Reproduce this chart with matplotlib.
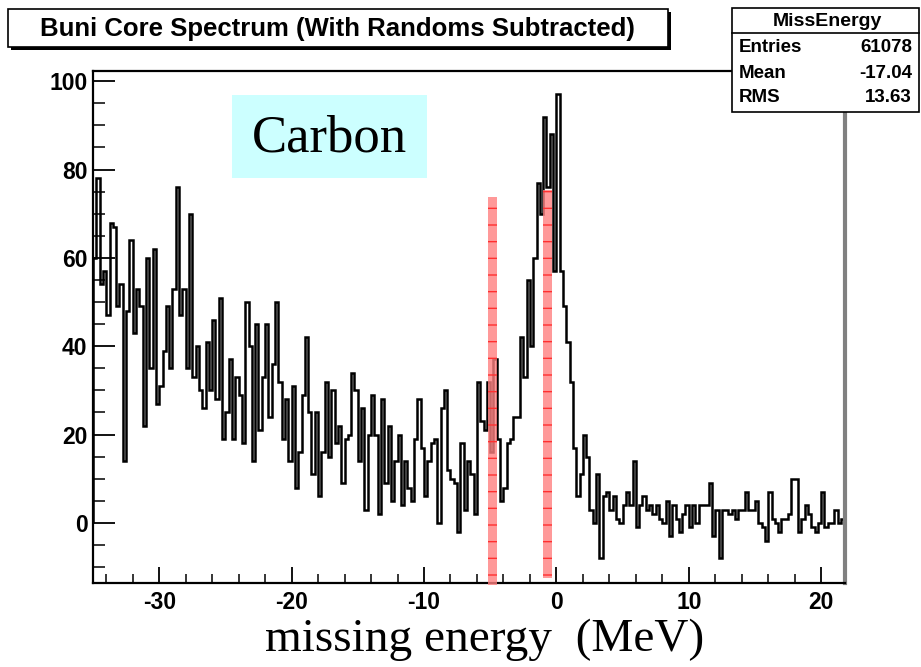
import numpy as np
import matplotlib
matplotlib.use("Agg")
import matplotlib.pyplot as plt
from matplotlib.patches import Rectangle
from matplotlib.ticker import MultipleLocator

plt.rcParams["axes.unicode_minus"] = False

# missing energy histogram, 0.25 MeV bins starting at -35 MeV
bin_start = -35.0
bin_width = 0.25
counts_low = [60, 78, 54, 57, 47, 68, 67, 49, 54, 14,
              48, 64, 43, 53, 49, 22, 60, 35, 62, 27,
              31, 39, 49, 35, 53, 76, 47, 53, 35, 70,
              33, 40, 30, 26, 41, 30, 46, 28, 51, 19,
              25, 37, 19, 33, 29, 18, 50, 40, 14, 45]
counts_mid = [21, 33, 45, 24, 36, 50, 32, 19, 28, 14,
              31, 8, 16, 29, 42, 25, 11, 25, 6, 16,
              32, 15, 30, 18, 22, 9, 19, 20, 34, 30,
              14, 26, 3, 20, 29, 20, 2, 28, 9, 22,
              5, 14, 20, 4, 14, 8]
counts_peak = [5, 19, 28, 17, 6, 14, 18, 19, 0, 26,
               30, 12, 10, 9, -2, 18, 3, 14, 11, 2,
               32, 23, 21, 32, 16, 37, 19, 5, 8, 18,
               19, 24, 24, 42, 33, 55, 40, 60, 77, 70,
               92, 76, 88, 57]
counts_tail = [97, 57, 49, 41, 32, 17, 6, 11, 20, 15,
               3, 0, 11, -8, 6, 7, 3, 6, 1, 0,
               4, 7, 4, 14, -1, 4, 6, 3, 4, 2,
               4, 1, 0, 5, -3, 4, 1, -2, 2, 4,
               -1, 4, 0, 4, 4]
counts_high = [4, 9, -3, 3, -8, 3, 3, 2, 3, 1,
               3, 3, 7, 3, 3, 5, 0, -1, -4, 7,
               1, 0, -2, 1, 1, 2, 10, 10, -2, 1,
               4, 2, -1, -2, 0, 7, -1, 0, 0, 3,
               0, 1]

title = "Buni Core Spectrum (With Randoms Subtracted)"
stats_name = "MissEnergy"
stats_rows = [("Entries", "61078"), ("Mean", "-17.04"), ("RMS", "13.63")]
windows = [(-5.2, -4.52, 73.8, -14.0), (-1.0, -0.32, 75.3, -12.4)]

counts = np.array(counts_low + counts_mid + counts_peak + counts_tail + counts_high, dtype=float)
edges = bin_start + bin_width * np.arange(len(counts) + 1)

W, H = 921, 667
fig = plt.figure(figsize=(W / 100, H / 100), dpi=100)
fig.patch.set_facecolor("white")


def fx(x):
    return x / W


def fy(y):
    return 1 - y / H


def px_rect(x0, y0, x1, y1, **kw):
    r = Rectangle((fx(x0), fy(y1)), fx(x1) - fx(x0), fy(y0) - fy(y1),
                  transform=fig.transFigure, **kw)
    fig.add_artist(r)
    return r


ax = fig.add_axes([fx(93), fy(583), fx(845) - fx(93), fy(71) - fy(583)])
ax.stairs(counts, edges, color="black", lw=1.8)
ax.set_xlim(-35, 21.8)
ax.set_ylim(-13.6, 102.3)

ax.xaxis.set_major_locator(MultipleLocator(10))
ax.xaxis.set_minor_locator(MultipleLocator(2))
ax.yaxis.set_major_locator(MultipleLocator(20))
ax.yaxis.set_minor_locator(MultipleLocator(5))
ax.tick_params(axis="x", which="major", direction="in", length=11.5, width=1.3, pad=6)
ax.tick_params(axis="x", which="minor", direction="in", length=6.5, width=1.1)
ax.tick_params(axis="y", which="major", direction="in", length=16, width=1.3, pad=4)
ax.tick_params(axis="y", which="minor", direction="in", length=8.5, width=1.1)
for lab in ax.get_xticklabels() + ax.get_yticklabels():
    lab.set_fontfamily("Liberation Sans")
    lab.set_fontweight("bold")
    lab.set_fontsize(16.5)

for side in ["left", "top", "bottom"]:
    ax.spines[side].set_linewidth(1.6)
    ax.spines[side].set_color("black")
ax.spines["right"].set_linewidth(3)
ax.spines["right"].set_color("#808080")

# red selection windows
for x0, x1, top, bot in windows:
    ax.add_patch(Rectangle((x0, bot), x1 - x0, top - bot,
                           facecolor=(1.0, 0.5, 0.5, 0.8), edgecolor="#ff3030",
                           hatch="-", lw=0, clip_on=False, zorder=5))

# title box with shadow
px_rect(11, 12, 671, 50, facecolor="black", edgecolor="none", zorder=10)
px_rect(8, 9, 668, 47, facecolor="white", edgecolor="black", lw=1.2, zorder=11)
fig.text(fx(337), fy(29), title, ha="center", va="center", fontsize=18.5,
         fontweight="bold", family="Liberation Sans", zorder=12)

# stats box
px_rect(732, 8, 919, 112, facecolor="white", edgecolor="black", lw=1.2, zorder=11)
fig.add_artist(plt.Line2D([fx(732), fx(919)], [fy(33), fy(33)],
                          transform=fig.transFigure, color="black", lw=1.2, zorder=12))
fig.text(fx(827), fy(21), stats_name, ha="center", va="center", fontsize=14,
         fontweight="bold", family="Liberation Sans", zorder=12)
for i, (name, val) in enumerate(stats_rows):
    yy = fy(48 + 25 * i)
    fig.text(fx(739), yy, name, ha="left", va="center", fontsize=13.5,
             fontweight="bold", family="Liberation Sans", zorder=12)
    fig.text(fx(912), yy, val, ha="right", va="center", fontsize=13.5,
             fontweight="bold", family="Liberation Sans", zorder=12)

# Carbon label
px_rect(232, 95, 427, 178, facecolor="#ccffff", edgecolor="none", zorder=3)
fig.text(fx(329), fy(138), "Carbon", ha="center", va="center", fontsize=38,
         family="Liberation Serif", zorder=4)

fig.text(fx(485), fy(640), "missing energy  (MeV)", ha="center", va="center",
         fontsize=34, family="Liberation Serif")

fig.savefig("out.png", dpi=100)
